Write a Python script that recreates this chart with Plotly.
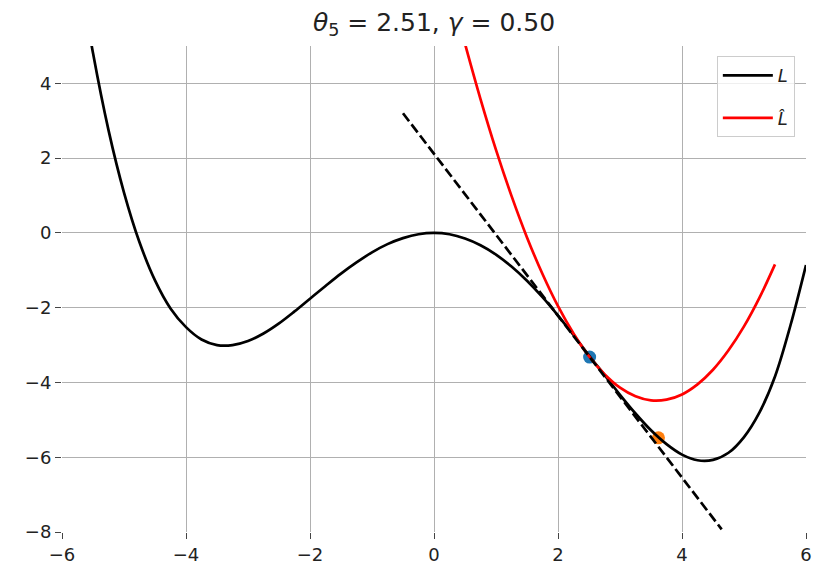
import plotly.graph_objects as go

# Loss curve L
x_L = [-5.75, -5.5, -5.25, -5.0, -4.75, -4.5, -4.25, -4.0, -3.75, -3.5, -3.25, -3.0,
       -2.75, -2.5, -2.25, -2.0, -1.75, -1.5, -1.25, -1.0, -0.75, -0.5, -0.25, 0.0,
       0.25, 0.5, 0.75, 1.0, 1.25, 1.5, 1.75, 2.0, 2.25, 2.5, 2.75, 3.0,
       3.25, 3.5, 3.75, 4.0, 4.25, 4.5, 4.75, 5.0, 5.25, 5.5, 5.75, 6.0]
y_L = [7.29, 4.81, 2.75, 1.08, -0.25, -1.27, -2.02, -2.52, -2.85, -3.00, -3.00, -2.89,
       -2.69, -2.42, -2.10, -1.76, -1.42, -1.09, -0.79, -0.52, -0.30, -0.14, -0.035, 0.0,
       -0.036, -0.15, -0.33, -0.58, -0.90, -1.28, -1.72, -2.21, -2.73, -3.28, -3.80, -4.33,
       -4.83, -5.28, -5.65, -5.93, -6.08, -6.07, -5.88, -5.46, -4.80, -3.84, -2.47, -0.86]

# Quadratic model L-hat
x_Lhat = [0.5, 0.75, 1.0, 1.25, 1.5, 1.75, 2.0, 2.25, 2.5, 2.75, 3.0, 3.25, 3.5,
          3.75, 4.0, 4.25, 4.5, 4.75, 5.0, 5.25, 5.5]
y_Lhat = [5.06, 3.58, 2.22, 0.99, -0.12, -1.10, -1.96, -2.69, -3.30, -3.78, -4.14, -4.37, -4.48,
          -4.46, -4.32, -4.05, -3.66, -3.14, -2.50, -1.73, -0.84]

# Tangent line (dashed)
x_tan = [-0.5, 4.64]
y_tan = [3.20, -7.93]

# Current and next iterate
theta_cur = [2.51]
L_cur = [-3.32]
theta_next = [3.62]
L_next = [-5.48]

x_ticks = [-6, -4, -2, 0, 2, 4, 6]
y_ticks = [-8, -6, -4, -2, 0, 2, 4]

FONT = "DejaVu Sans"
fig = go.Figure()

fig.add_trace(go.Scatter(x=theta_cur, y=L_cur, mode="markers",
                         marker=dict(color="#1f77b4", size=13), showlegend=False))
fig.add_trace(go.Scatter(x=theta_next, y=L_next, mode="markers",
                         marker=dict(color="#ff7f0e", size=13), showlegend=False))
fig.add_trace(go.Scatter(x=x_L, y=y_L, mode="lines", name="<i>L</i>",
                         line=dict(color="black", width=2.7, shape="spline"),
                         legendgroup="a"))
fig.add_trace(go.Scatter(x=x_Lhat, y=y_Lhat, mode="lines", name="<i>L\u0302</i>",
                         line=dict(color="#ff0000", width=2.7, shape="spline"),
                         legendgroup="b"))
fig.add_trace(go.Scatter(x=x_tan, y=y_tan, mode="lines", showlegend=False,
                         line=dict(color="black", width=2.7, dash="10px,4px")))

axis_common = dict(showgrid=True, gridcolor="#b0b0b0", gridwidth=1.4, zeroline=False,
                   showline=False, ticks="outside", ticklen=6, tickwidth=1.4,
                   tickcolor="#444444", tickfont=dict(family=FONT, size=18, color="#222222"))

fig.update_xaxes(range=[-6, 6], tickvals=x_ticks, **axis_common)
fig.update_yaxes(range=[-8, 5], tickvals=y_ticks, **axis_common)

fig.update_layout(
    width=814, height=566,
    margin=dict(l=62, r=8, t=46, b=34, autoexpand=False),
    paper_bgcolor="white", plot_bgcolor="white",
    title=dict(text="<i>θ</i><sub>5</sub> = 2.51, <i>γ</i> = 0.50",
               x=434 / 814, xanchor="center", y=1 - 22 / 566, yanchor="middle",
               font=dict(family=FONT, size=25, color="#222222")),
    legend=dict(x=0.985, y=0.979, xanchor="right", yanchor="top",
                bgcolor="rgba(255,255,255,0.8)", bordercolor="#cccccc", borderwidth=1,
                font=dict(family=FONT, size=18, color="#222222"),
                tracegroupgap=16, traceorder="grouped", itemwidth=50),
)

fig.write_html("out.html", config={"displayModeBar": False},
               post_script="document.body.style.margin='0';document.body.style.overflow='hidden';")
